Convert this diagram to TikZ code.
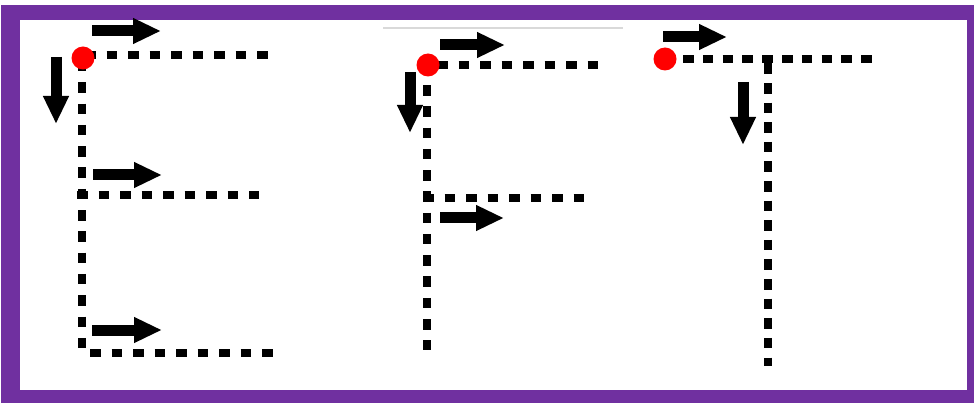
\documentclass[tikz,border=0pt]{standalone}
\usetikzlibrary{arrows.meta}
\definecolor{framepurple}{RGB}{112,48,160}
\tikzset{
  trace/.style={line width=8.5pt, dash pattern=on 10.5pt off #1},
  trace/.default=11pt,
  hint/.style={line width=11pt, -{Triangle[length=28pt,width=24pt]}},
  startdot/.style={circle, fill=red, inner sep=0pt, minimum size=23pt}
}
\begin{document}
\begin{tikzpicture}[x=1pt,y=-1pt]
  \useasboundingbox (0,0) rectangle (974,403);
  % frame
  \fill[framepurple] (1,5) rectangle (974,403);
  \fill[white] (20,20) rectangle (967,390);
  \draw[black!15, line width=2pt] (383,28) -- (623,28);

  % letter E
  \draw[trace] (85,55) -- (273,55);
  \draw[trace=10.8pt] (82,61) -- (82,349);
  \draw[trace] (77,195) -- (259,195);
  \draw[trace] (90,353) -- (276,353);
  \node[startdot] (startE) at (83,58) {};
  \draw[hint] (92,31) -- (161,31);
  \draw[hint] (56,57) -- (56,124);
  \draw[hint] (93,175) -- (162,175);
  \draw[hint] (92,330) -- (162,330);

  % letter F
  \draw[trace] (437,65) -- (603,65);
  \draw[trace=10.75pt] (427,64) -- (427,350);
  \draw[trace] (423,198) -- (584,198);
  \node[startdot] (startF) at (428,65) {};
  \draw[hint] (440,45) -- (505,45);
  \draw[hint] (410,72) -- (410,133);
  \draw[hint] (440,218) -- (504,218);

  % letter T
  \draw[trace=9.3pt] (683,59) -- (872,59);
  \draw[trace=9.1pt] (768,63.5) -- (768,366);
  \node[startdot] (startT) at (665,59) {};
  \draw[hint] (663,37) -- (727,37);
  \draw[hint] (743,82) -- (743,145);
\end{tikzpicture}
\end{document}
